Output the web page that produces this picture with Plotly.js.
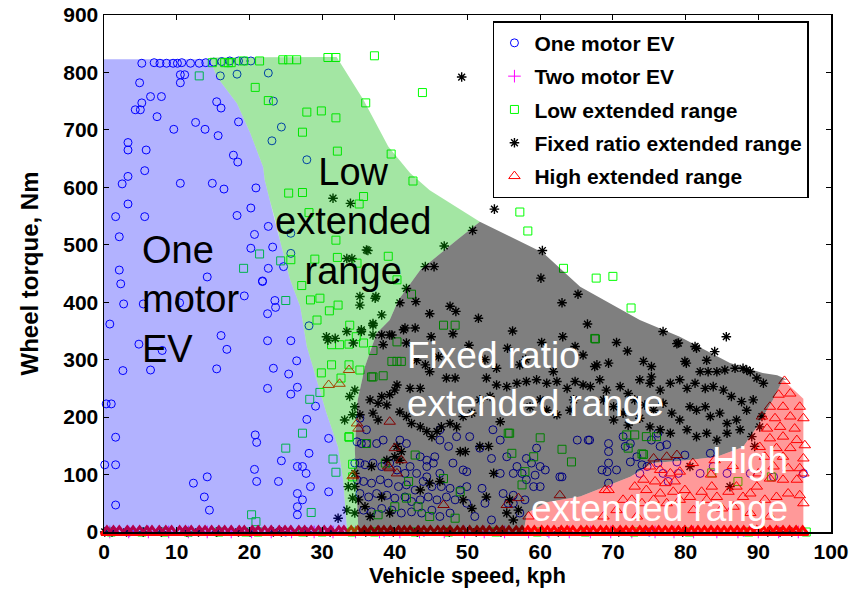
<!DOCTYPE html>
<html><head><meta charset="utf-8">
<script src="https://cdn.plot.ly/plotly-3.0.1.min.js"></script>
<style>html,body{margin:0;padding:0;background:#fff}#chart{width:849px;height:592px}</style>
</head><body><div id="chart"></div>
<script>
// ---------- series: One motor EV (blue circles) ----------
const oneX = [5.2,6.9,7.7,8.6,9.5,10.1,10.7,11.9,13.1,14.0,
15.1,16.2,17.3,18.5,19.3,20.2,10.5,11.1,4.9,10.5,
6.4,7.9,5.2,4.3,5.0,7.3,9.6,12.6,13.9,15.7,
15.5,16.1,16.0,18.3,22.6,23.3,24.4,23.1,18.5,27.9,
3.3,3.3,5.8,5.6,3.3,2.5,10.5,14.9,16.5,17.8,
18.4,20.9,3.3,1.6,5.6,18.3,20.2,22.6,2.1,20.7,
20.2,22.6,21.8,14.2,2.1,2.3,24.7,25.7,23.2,25.7,
19.3,21.8,2.7,5.4,10.4,23.5,23.6,22.5,0.8,4.8,
8.0,16.1,16.9,22.5,25.7,2.6,6.4,15.5,23.3,25.4,
26.5,22.5,25.7,26.6,0.3,1.0,28.2,29.1,27.9,1.6,
20.8,21.0,30.9,0.1,1.6,28.2,24.4,26.6,27.3,27.8,
20.7,12.3,14.2,21.0,24.0,28.4,30.9,13.8,26.6,27.3,
14.5,26.6,26.6,1.6,35.2,36.1,34.8,35.4,36.1,37.5,
38.4,40.7,41.6,43.5,44.4,45.5,44.4,46.2,47.4,48.5,
50.3,51.7,53.5,54.5,34.5,35.2,35.9,37.0,38.2,39.3,
40.3,41.4,42.1,43.0,44.4,45.3,46.2,48.0,49.4,49.9,
34.8,35.7,36.8,38.0,39.1,40.5,41.6,42.8,43.9,45.1,
46.4,47.6,49.0,49.9,35.2,36.4,37.5,38.9,40.0,41.4,
42.3,43.5,44.6,45.8,47.1,48.3,49.9,35.7,36.8,38.2,
39.6,40.9,42.3,43.7,45.1,46.2,47.6,51.0,52.0,52.4,
54.9,55.6,56.3,57.2,57.9,56.3,56.8,57.5,58.8,59.3,
60.0,58.1,59.1,60.0,59.5,56.3,53.3,54.5,53.3,55.4,
58.1,63.0,66.6,69.4,69.4,69.4,69.2,70.5,69.4,71.4,
71.7,72.4,72.4,73.3,74.0,73.7,74.7,75.3,76.2,76.5,
77.4,76.2,76.9,77.6,78.8,79.0,79.9,82.0,83.4,83.8,
85.7,88.9,92.1,96.2,62.7,66.8,60.7,65.1,68.5,46.2,
3.5,12.0,25.0,38.5,44.0,61.0,75.0,88.0];
const oneY = [816,817,816,816,816,816,817,816,816,817,
818,819,820,820,820,820,796,796,782,782,
758,758,747,735,735,723,701,713,701,690,
749,738,794,797,799,750,705,681,714,648,
678,665,665,629,619,606,607,607,597,656,
644,599,571,549,549,551,564,532,514,518,
494,459,437,444,456,432,462,485,496,520,
411,436,397,397,399,403,391,380,362,327,
316,342,318,333,333,281,282,284,285,275,
298,250,240,252,223,223,359,219,196,165,
169,156,163,117,117,137,124,114,114,102,
109,85,96,88,88,79,70,61,67,56,
38,44,30,47,198,178,157,154,154,154,
160,160,154,131,125,131,114,160,149,166,
166,146,178,160,120,120,117,120,114,120,
108,102,114,102,96,120,102,120,108,105,
91,88,85,91,85,79,82,73,88,79,
79,76,73,79,67,61,67,64,59,61,
53,56,61,56,61,56,50,38,35,41,
38,33,35,33,38,27,33,27,76,50,
67,50,64,33,56,102,114,102,120,99,
114,128,79,79,146,50,21,102,128,131,
91,96,160,154,140,120,105,108,85,166,
149,154,122,131,117,102,114,160,172,149,
152,120,102,88,122,102,134,102,137,114,
102,102,96,102,96,160,108,160,108,178,
0,0,0,0,0,0,0,0];

// ---------- series: Two motor EV (magenta plus) ----------
const twoX = [0.8,3.4,6.1,8.9,11.6,14.2,17.5,20.3,23.0,25.8,
28.9,31.5,34.6,37.9,40.7,43.4,46.8,49.6,52.3,55.1,
58.4,61.2,64.0,66.9,69.7,72.6,75.8,78.4,81.1,84.3,
87.2,90.0,92.8,95.5];
const twoY = [0,0,0,0,0,0,0,0,0,0,
0,0,0,0,0,0,0,0,0,0,
0,0,0,0,0,0,0,0,0,0,
0,0,0,0];

// ---------- series: Low extended range (green squares) ----------
const lowX = [13.1,14.9,16.6,17.1,17.5,19.2,21.4,24.6,25.4,26.5,
30.8,31.9,37.2,20.8,22.6,27.9,29.9,31.9,27.3,32.1,
43.8,36.0,39.5,42.5,35.7,35.1,57.2,58.3,63.2,67.7,
70.0,72.5,25.4,27.3,28.2,31.9,21.4,19.2,24.3,25.7,
29.0,32.1,39.1,34.8,42.3,32.2,40.3,46.7,48.3,67.5,
40.3,39.6,40.3,40.9,37.0,38.4,33.8,35.7,55.8,60.0,
63.0,64.3,74.2,83.6,34.7,37.0,35.2,33.7,36.1,34.2,
38.7,42.8,41.9,43.2,40.0,44.8,46.7,49.0,48.3,55.6,
56.1,59.1,57.9,57.5,41.6,37.7,25.0,27.2,28.4,29.7,
31.0,29.3,31.3,32.4,33.7,31.3,33.7,29.9,32.6,29.7,
28.3,27.3,25.0,31.5,31.9,28.5,20.3,20.9,33.7,34.2,
67.6,71.9,73.0,74.6,76.0,72.1,74.0,87.2,91.8,36.8,
1.0,5.2,8.3,11.6,15.8,19.5,21.2,27.3,30.0,34.1,
37.2,42.8,47.4,53.9,59.6,66.2,72.9,80.5,88.7,96.6];
const lowY = [794,817,817,817,817,820,820,822,822,822,
826,826,829,774,751,731,733,721,696,663,
765,747,658,611,584,571,557,524,459,442,
445,390,590,591,556,508,484,459,472,474,
475,478,480,468,414,395,439,360,360,337,
331,297,297,297,270,272,360,329,172,164,
144,122,135,103,340,316,282,166,154,96,
120,134,88,44,44,27,93,70,24,172,
137,131,105,82,59,30,403,429,404,407,
385,369,326,326,327,291,291,277,268,243,
231,172,146,127,104,34,30,18,165,118,
336,169,169,166,166,146,136,88,96,270,
0,0,0,0,0,0,0,0,0,0,
0,0,0,0,0,0,0,0,0,0];

// ---------- series: Fixed ratio extended range (black stars) ----------
const fixX = [49.2,53.7,50.7,46.8,44.2,45.4,41.6,40.7,42.9,44.8,
47.6,48.4,60.3,60.1,65.2,63.0,31.5,33.9,36.3,33.4,
34.1,35.2,37.4,38.2,76.9,85.6,79.0,81.5,84.0,64.8,
65.9,67.8,69.4,74.2,75.3,80.1,82.9,86.8,88.4,90.7,
41.4,42.8,39.6,38.2,35.2,37.0,41.2,35.4,37.0,39.3,
38.4,41.6,43.0,44.8,47.1,48.3,46.0,44.2,40.3,42.1,
43.5,40.0,38.2,39.3,36.6,37.7,38.9,35.2,34.5,37.0,
37.7,40.7,41.6,42.3,43.5,44.4,45.1,45.8,46.4,47.6,
48.5,49.4,50.6,51.7,53.1,54.0,55.4,56.8,58.1,59.5,
60.9,62.3,63.7,64.6,64.1,52.6,54.0,57.2,61.8,40.3,
40.9,40.0,40.7,38.9,36.8,34.5,35.0,35.9,36.6,39.3,
38.2,43.5,44.8,46.2,49.0,49.7,49.4,50.6,52.6,53.6,
55.4,56.3,57.0,55.8,54.5,52.9,51.7,60.9,62.3,60.0,
58.6,33.8,33.6,33.4,33.1,34.3,78.8,81.3,67.5,75.3,
79.9,82.0,83.1,84.3,85.4,87.9,88.9,89.8,64.8,65.9,
66.9,68.2,69.1,71.0,72.1,73.7,75.1,76.5,77.9,79.2,
80.2,81.3,82.7,83.8,85.2,86.3,87.7,89.3,90.5,68.7,
70.1,71.4,73.0,74.4,75.6,76.9,78.1,79.2,80.6,81.5,
82.7,83.4,84.7,85.7,87.0,88.4,87.5,70.1,72.1,73.7,
75.1,76.5,77.9,80.2,81.5,82.9,84.3,85.7,89.1,89.5,
90.2,80.6,86.1,36.1,37.3,33.4,35.4,30.6,31.8,37.0,
30.8,34.5,34.2,34.5,34.2,32.2,34.5,45.0,50.2,52.4,
55.5,58.0,56.2,60.2,63.1,66.5,70.5,72.0,48.0,51.5,
0.1,1.1,3.1,5.4,7.9,11.4,13.0,15.5,18.5,20.1,
23.3,24.4,27.9,31.1,36.0,39.8,43.1,47.5,51.2,54.6,
62.5,70.8,79.6,91.3,93.0,94.6];
const fixY = [792,562,525,498,462,462,424,399,401,380,
393,384,490,442,414,399,581,572,490,476,
476,410,410,378,349,340,329,320,314,323,
308,291,294,297,288,294,299,285,282,259,
355,355,343,343,395,360,352,349,343,343,
326,329,299,279,268,268,305,291,256,250,
250,247,236,239,230,224,221,204,218,207,
195,209,201,189,183,175,166,175,183,189,
183,201,207,230,236,256,253,259,262,265,
259,262,250,230,212,268,285,291,279,149,
140,131,125,125,114,79,56,44,27,33,
61,73,85,88,140,140,56,41,61,102,
33,21,38,56,192,149,149,212,204,230,
218,236,79,38,195,329,328,323,288,270,
297,279,279,279,282,285,279,268,262,256,
253,265,247,253,241,265,259,247,259,265,
250,259,250,253,247,236,227,230,201,230,
218,207,230,221,212,224,207,195,218,212,
218,201,207,189,195,212,178,195,186,198,
183,178,172,178,166,172,160,172,166,149,
183,114,79,491,407,349,352,340,337,363,
334,247,204,102,59,24,33,340,325,300,
320,300,350,330,340,362,330,315,345,372,
0,0,0,0,0,0,0,0,0,0,
0,0,0,0,0,0,0,0,0,0,
0,0,0,0,0,0];

// ---------- series: High extended range (red triangles) ----------
const highX = [92.8,94.4,93.6,95.7,91.6,93.4,90.5,92.3,94.4,96.2,
91.2,93.0,95.0,91.6,93.4,95.3,96.4,90.2,92.5,94.4,
96.2,90.9,93.4,92.1,94.1,95.7,90.0,91.6,93.4,95.3,
96.2,75.6,78.8,77.4,75.1,76.5,77.9,79.2,74.2,75.8,
77.2,78.5,73.0,74.6,76.5,78.3,79.9,72.6,74.0,75.6,
77.4,79.2,80.6,82.2,83.6,82.9,84.3,85.9,87.0,87.9,
85.0,86.6,88.9,89.8,90.9,92.5,94.1,95.7,96.2,69.4,
71.4,70.5,68.7,73.3,81.1,88.9,91.6,34.8,35.0,39.3,
40.0,40.9,39.3,40.3,34.3,46.7,55.4,57.0,58.4,62.7,
33.7,30.9,32.4,34.2,39.1,68.9,81.0,84.0,86.5,83.5];
const highY = [239,241,263,218,218,218,201,198,201,198,
180,183,180,163,166,160,151,148,146,146,
128,131,131,114,111,111,102,93,91,91,
102,128,134,131,114,108,102,105,91,88,
85,88,79,73,67,70,73,56,50,56,
50,56,61,70,79,56,61,70,79,61,
41,44,67,79,56,61,67,64,50,73,
56,38,27,27,38,33,27,189,180,192,
146,125,111,102,99,47,47,59,27,64,
282,256,258,97,114,73,120,125,115,100];
const highBaseX = [0.4,1.3,2.1,3.2,4.0,4.9,5.9,6.6,7.6,8.5,
9.3,10.4,11.2,12.0,13.1,13.9,14.8,15.8,16.6,17.5,
18.6,19.3,20.4,21.2,22.1,23.0,24.1,24.9,25.7,26.8,
27.6,28.5,29.5,30.3,31.2,32.3,33.0,34.0,34.9,35.8,
36.7,37.7,38.5,39.4,40.5,41.3,42.1,43.2,44.0,44.9,
45.9,46.7,47.6,48.6,49.4,50.3,51.3,52.1,53.0,54.0,
54.8,55.7,56.7,57.5,58.3,59.2,60.2,61.0,61.9,62.9,
63.7,64.5,65.6,66.4,67.3,68.3,69.1,70.0,71.0,71.8,
72.7,73.7,74.5,75.4,76.3,77.2,78.1,79.0,79.9,80.8,
81.7,82.6,83.5,84.4,85.3,86.2,87.1,88.0,88.9,89.8,
90.7,91.6,92.5,93.4,94.3,95.2,96.1];
const highBaseY = [0,0,0,0,0,0,0,0,0,0,
0,0,0,0,0,0,0,0,0,0,
0,0,0,0,0,0,0,0,0,0,
0,0,0,0,0,0,0,0,0,0,
0,0,0,0,0,0,0,0,0,0,
0,0,0,0,0,0,0,0,0,0,
0,0,0,0,0,0,0,0,0,0,
0,0,0,0,0,0,0,0,0,0,
0,0,0,0,0,0,0,0,0,0,
0,0,0,0,0,0,0,0,0,0,
0,0,0,0,0,0,0];

// ---------- region boundaries ----------
const bgX = [14.6,15.5,18.3,20.1,21.9,22.1,22.8,23.8,24.2,25.6,27.0,27.9,29.3,30.6,32.2,32.9,33.4,33.4];
const bgY = [823,793,746,695,635,613,578,531,508,439,392,323,265,207,148,91,9,0];
const blueTopY = 823;
const gwX = [14.6,32.0,35.7,39.1,42.1,44.8,51.7];
const gwY = [826,827,752,671,625,595,540];
const ggX = [51.7,48.5,43.5,40.5,39.3,37.5,35.9,34.9,34.5,34.8,35.0];
const ggY = [540,508,456,404,369,346,288,230,143,56,0];
const gtX = [51.7,60.4,65.5,73.7,76.9,79.2,86.1,90.6,92.6,94.0];
const gtY = [540,486,427,369,352,340,294,277,273,265];
const pgX = [57.7,58.2,60.9,65.5,72.4,75.5,80.2,84.3,87.9,89.8,92.0,93.4];
const pgY = [0,33,52,62,96,120,125,131,148,183,230,265];
const pinkRightX = [96.2,96.2];
const pinkRightY = [232,0];

const rev = a => a.slice().reverse();
const blueX = [0,0].concat(bgX);
const blueY = [0,blueTopY].concat(bgY);
const greenX = gwX.concat(ggX.slice(1), rev(bgX));
const greenY = gwY.concat(ggY.slice(1), rev(bgY));
const greyX = gtX.concat(rev(pgX), rev(ggX));
const greyY = gtY.concat(rev(pgY), rev(ggY));
const pinkX = pgX.concat(pinkRightX);
const pinkY = pgY.concat(pinkRightY);

const F = 'Arial, "Liberation Sans", Helvetica, sans-serif';

function pts(name, x, y, symbol, color, size, lw, group, show) {
  return {type:'scatter', mode:'markers', name:name, x:x, y:y, cliponaxis:false,
    legendgroup:group, showlegend:show, hoverinfo:'skip',
    marker:{symbol:symbol, size:size, color:color, line:{color:color, width:lw}}};
}
function region(x, y, color) {
  return {type:'scatter', mode:'lines', x:x, y:y, fill:'toself', fillcolor:color,
    line:{width:0, color:color}, showlegend:false, hoverinfo:'skip'};
}

const traces = [
  pts('One motor EV', oneX, oneY, 'circle-open', 'rgb(0,0,255)', 8, 1, 'g1', true),
  pts('Two motor EV', twoX, twoY, 'cross-thin-open', 'rgb(255,0,255)', 9, 1, 'g2', true),
  pts('Low extended range', lowX, lowY, 'square-open', 'rgb(0,255,0)', 8, 1, 'g3', true),
  pts('Fixed ratio extended range', fixX, fixY, 'asterisk-open', 'rgb(0,0,0)', 8, 1.4, 'g4', true),
  pts('High extended range', highX, highY, 'triangle-up-open', 'rgb(255,0,0)', 10, 1, 'g5', true),
  pts('High extended range', highBaseX, highBaseY, 'triangle-up-open', 'rgb(255,0,0)', 10, 3, 'g5', false),
  region(blueX, blueY, 'rgba(0,0,255,0.3)'),
  region(greenX, greenY, 'rgba(0,185,0,0.36)'),
  region(greyX, greyY, 'rgba(0,0,0,0.5)'),
  region(pinkX, pinkY, 'rgba(255,0,0,0.4)')
];

const axisCommon = {
  ticks:'inside', ticklen:5, tickwidth:1, tickcolor:'#000',
  showline:true, linecolor:'#000', linewidth:1.5, mirror:'ticks',
  showgrid:false, zeroline:false,
  tickfont:{family:F, size:21, color:'#000', weight:'bold'}
};

const layout = {
  width:849, height:592,
  margin:{l:104, r:18, t:15, b:60},
  paper_bgcolor:'#fff', plot_bgcolor:'#fff',
  font:{family:F, color:'#000'},
  xaxis: Object.assign({}, axisCommon, {range:[0,100], tick0:0, dtick:10,
    title:{text:'Vehicle speed, kph', font:{family:F, size:22, color:'#000', weight:'bold'}, standoff:4}}),
  yaxis: Object.assign({}, axisCommon, {range:[0,900], tick0:0, dtick:100,
    title:{text:'Wheel torque, Nm', font:{family:F, size:24, color:'#000', weight:'bold'}, standoff:18}}),
  legend:{x:0.535, y:0.988, xanchor:'left', yanchor:'top', bgcolor:'#fff',
    bordercolor:'#000', borderwidth:1.5, tracegroupgap:3,
    font:{family:F, size:21, color:'#000', weight:'bold'}},
  showlegend:true,
  annotations:[
    {text:'One<br>motor<br>EV', x:4.95, y:405, xref:'x', yref:'y', xanchor:'left', yanchor:'middle',
     align:'left', showarrow:false, font:{family:F, size:38, color:'#000'}},
    {text:'Low<br>extended<br>range', x:34.2, y:541, xref:'x', yref:'y', xanchor:'center', yanchor:'middle',
     align:'center', showarrow:false, font:{family:F, size:38, color:'#000'}},
    {text:'Fixed ratio<br>extended range', x:41.4, y:266, xref:'x', yref:'y', xanchor:'left', yanchor:'middle',
     align:'left', showarrow:false, font:{family:F, size:37, color:'#fff'}},
    {text:'High<br>extended range', x:94.4, y:82, xref:'x', yref:'y', xanchor:'right', yanchor:'middle',
     align:'right', showarrow:false, font:{family:F, size:37, color:'#fff'}}
  ]
};

Plotly.newPlot('chart', traces, layout, {displayModeBar:false, staticPlot:true});
</script></body></html>
